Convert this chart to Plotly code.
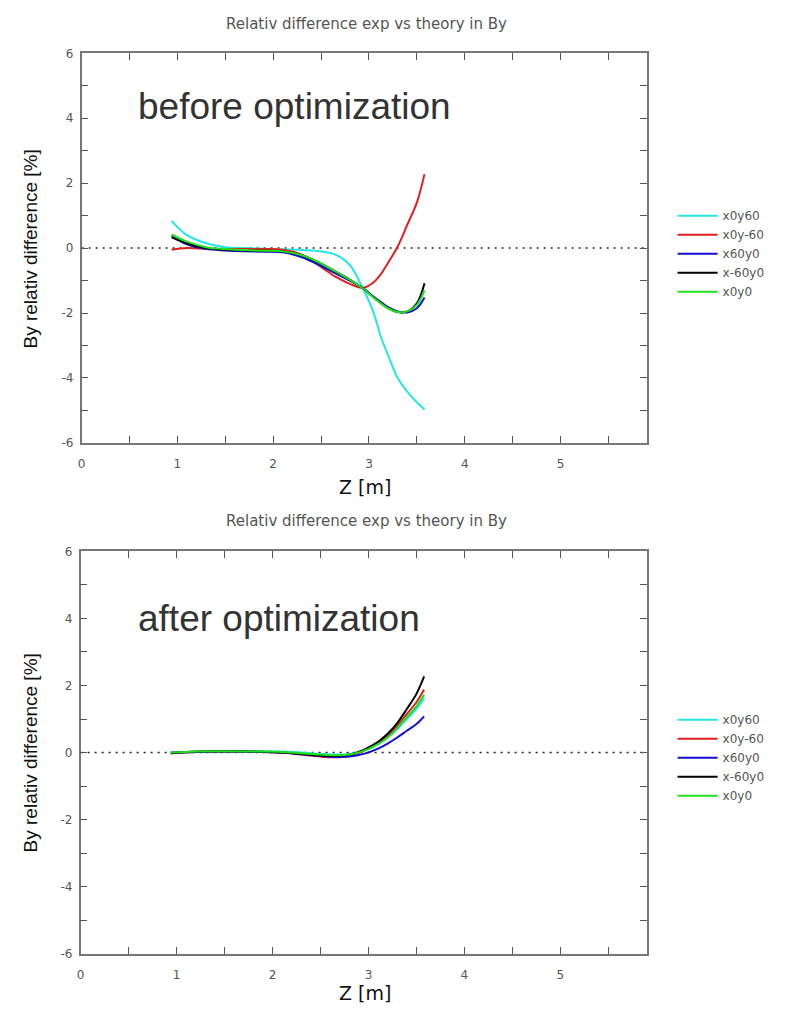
import plotly.graph_objects as go

W, H = 790, 1014

# ---------------- data ----------------
series_names = ["x0y60", "x0y-60", "x60y0", "x-60y0", "x0y0"]
series_colors = ["#22e6e6", "#e02020", "#1010d0", "#000000", "#20e020"]

z_before = [0.94, 1.1, 1.3, 1.5, 1.7, 1.9, 2.1, 2.3, 2.5, 2.65, 2.8, 2.94,
            3.05, 3.12, 3.2, 3.3, 3.4, 3.5, 3.58]
before_x0y60 = [0.84, 0.40, 0.15, 0.03, 0.0, -0.02, -0.04, -0.06, -0.10, -0.20,
                -0.52, -1.26, -2.0, -2.69, -3.3, -4.0, -4.42, -4.75, -4.97]
before_x0y_60 = [-0.05, 0.0, -0.02, -0.03, -0.03, -0.03, -0.05, -0.2, -0.58, -0.88,
                 -1.1, -1.22, -1.05, -0.82, -0.45, 0.05, 0.72, 1.4, 2.28]
before_x60y0 = [0.38, 0.12, -0.02, -0.07, -0.10, -0.11, -0.13, -0.28, -0.55, -0.78,
                -1.0, -1.24, -1.5, -1.65, -1.82, -1.95, -1.98, -1.85, -1.52]
before_x_60y0 = [0.33, 0.15, 0.0, -0.05, -0.07, -0.08, -0.10, -0.22, -0.48, -0.72,
                 -0.97, -1.25, -1.52, -1.68, -1.85, -1.97, -1.95, -1.7, -1.08]
before_x0y0 = [0.42, 0.20, 0.03, -0.03, -0.06, -0.08, -0.10, -0.22, -0.47, -0.72,
               -0.97, -1.25, -1.53, -1.69, -1.86, -1.97, -1.95, -1.75, -1.30]

z_after = [0.94, 1.2, 1.5, 1.8, 2.1, 2.3, 2.5, 2.65, 2.8, 2.95, 3.1, 3.2, 3.3,
           3.4, 3.5, 3.58]
after_x0y60 = [0.0, 0.02, 0.03, 0.04, 0.03, 0.0, -0.04, -0.06, -0.05, 0.05, 0.25,
               0.45, 0.70, 1.0, 1.3, 1.62]
after_x0y_60 = [-0.02, 0.02, 0.03, 0.02, 0.0, -0.06, -0.12, -0.14, -0.10, 0.05, 0.28,
                0.50, 0.80, 1.15, 1.5, 1.88]
after_x60y0 = [0.0, 0.02, 0.03, 0.02, 0.0, -0.05, -0.10, -0.13, -0.12, -0.04, 0.12,
               0.27, 0.45, 0.65, 0.85, 1.08]
after_x_60y0 = [-0.02, 0.03, 0.04, 0.03, 0.0, -0.04, -0.09, -0.10, -0.06, 0.08, 0.32,
                0.56, 0.88, 1.3, 1.75, 2.27]
after_x0y0 = [0.0, 0.03, 0.04, 0.03, 0.02, -0.02, -0.06, -0.08, -0.06, 0.05, 0.25,
              0.45, 0.73, 1.05, 1.38, 1.72]

before_series = [before_x0y60, before_x0y_60, before_x60y0, before_x_60y0, before_x0y0]
after_series = [after_x0y60, after_x0y_60, after_x60y0, after_x_60y0, after_x0y0]

title_text = "Relativ difference exp vs theory in By"
y_title = "By relativ difference [%]"
x_title = "Z [m]"
x_ticks = [0, 1, 2, 3, 4, 5]
x_ticklabels = ["0", "1", "2", "3", "4", "5"]
y_ticks = [-6, -4, -2, 0, 2, 4, 6]
y_ticklabels = ["-6", "-4", "-2", "0", "2", "4", "6"]

# ---------------- figure ----------------
def px(x):
    return x / W

def py(y):
    return 1 - y / H

fig = go.Figure()

for name, col, ys in zip(series_names, series_colors, before_series):
    fig.add_trace(go.Scatter(x=z_before, y=ys, mode="lines", name=name,
                             line=dict(color=col, width=2, shape="spline"),
                             xaxis="x", yaxis="y", legend="legend"))
for name, col, ys in zip(series_names, series_colors, after_series):
    fig.add_trace(go.Scatter(x=z_after, y=ys, mode="lines", name=name,
                             line=dict(color=col, width=2, shape="spline"),
                             xaxis="x2", yaxis="y2", legend="legend2"))

axis_common = dict(
    showline=True, linecolor="#777777", linewidth=1.5, mirror="ticks",
    ticks="inside", ticklen=7, tickwidth=1.2, tickcolor="#555555",
    showgrid=False, zeroline=False,
    tickfont=dict(family="DejaVu Sans", size=12, color="#555555"),
)
xa = dict(axis_common, range=[0, 5.9], tickvals=x_ticks, ticktext=x_ticklabels,
          ticklabelstandoff=9,
          minor=dict(dtick=0.5, ticks="inside", ticklen=7, tickcolor="#555555", showgrid=False))
ya = dict(axis_common, range=[-6, 6], tickvals=y_ticks, ticktext=y_ticklabels,
          ticklabelstandoff=4,
          minor=dict(dtick=1, ticks="inside", ticklen=7, tickcolor="#555555", showgrid=False))

legend_common = dict(xanchor="left", yanchor="top", bgcolor="rgba(0,0,0,0)",
                     font=dict(family="DejaVu Sans", size=12, color="#555555"),
                     tracegroupgap=0, itemwidth=40)

fig.update_layout(
    width=W, height=H,
    margin=dict(l=0, r=0, t=0, b=0),
    paper_bgcolor="white", plot_bgcolor="white",
    xaxis=dict(xa, domain=[px(78), px(646)], anchor="y"),
    yaxis=dict(ya, domain=[py(442), py(47)], anchor="x"),
    xaxis2=dict(xa, domain=[px(77), px(646)], anchor="y2"),
    yaxis2=dict(ya, domain=[py(960), py(552)], anchor="x2"),
    legend=dict(legend_common, x=px(672), y=py(197)),
    legend2=dict(legend_common, x=px(672), y=py(708)),
    showlegend=True,
)

# zero reference lines (dotted)
for xr, yr in [("x domain", "y"), ("x2 domain", "y2")]:
    fig.add_shape(type="line", xref=xr, yref=yr, x0=0, x1=1, y0=0, y1=0,
                  line=dict(color="#222222", width=1.5, dash="2px,5px"), layer="below")

ann = []
for cy_title, cy_xt, cy_yt, cy_lab, label in [
        (17, 487, 245, 101, "before optimization"),
        (521, 1000, 756, 620, "after optimization")]:
    ann.append(dict(text=title_text, x=px(364), y=py(cy_title), xref="paper", yref="paper",
                    showarrow=False, xanchor="center", yanchor="middle",
                    font=dict(family="DejaVu Sans", size=15, color="#555555")))
    ann.append(dict(text=x_title, x=px(363), y=py(cy_xt), xref="paper", yref="paper",
                    showarrow=False, xanchor="center", yanchor="middle",
                    font=dict(family="DejaVu Sans", size=19, color="#111111")))
    ann.append(dict(text=y_title, x=px(27), y=py(cy_yt), xref="paper", yref="paper",
                    showarrow=False, xanchor="center", yanchor="middle", textangle=-90,
                    font=dict(family="Liberation Sans", size=19, color="#111111")))
    ann.append(dict(text=label, x=px(133), y=py(cy_lab), xref="paper", yref="paper",
                    showarrow=False, xanchor="left", yanchor="middle",
                    font=dict(family="Liberation Sans", size=37, color="#333333")))
fig.update_layout(annotations=ann)

fig.write_html("out.html")
